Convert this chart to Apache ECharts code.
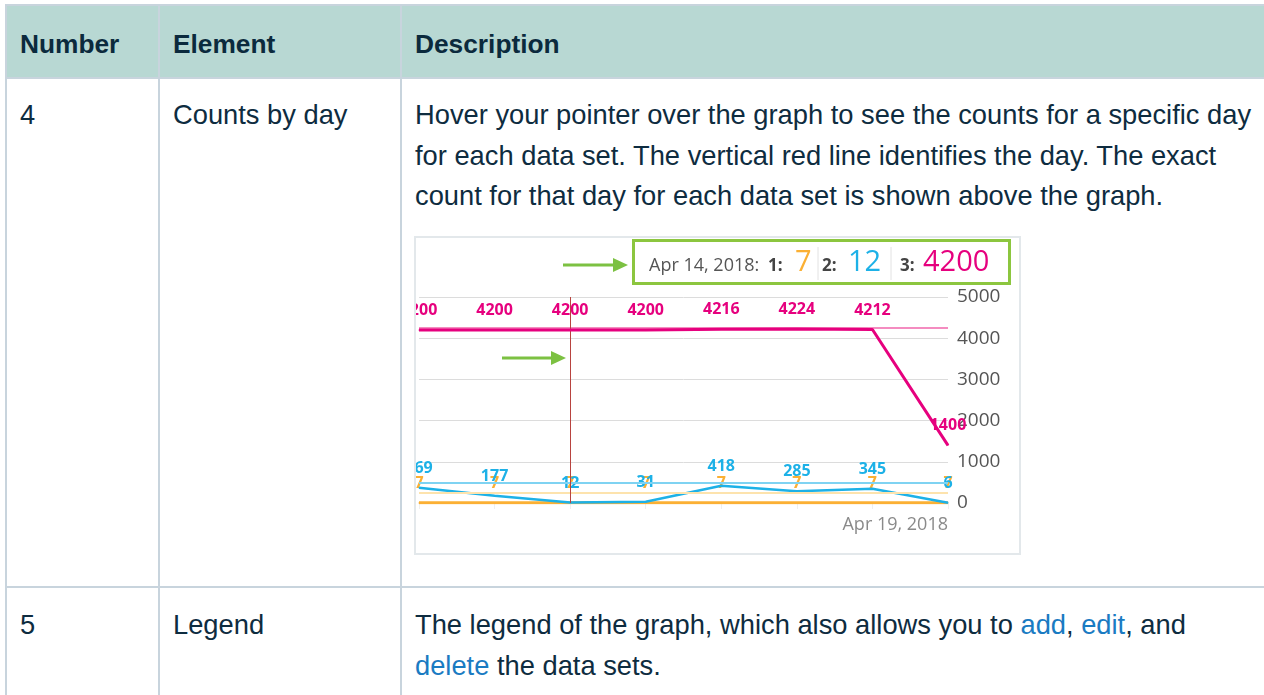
<!DOCTYPE html>
<html>
<head>
<meta charset="utf-8">
<script src="https://cdn.jsdelivr.net/npm/echarts@6/dist/echarts.min.js"></script>
<style>
  html, body { margin: 0; padding: 0; width: 1264px; height: 695px; overflow: hidden; background: #fff; }
  body { position: relative; font-family: "Liberation Sans", Arial, sans-serif; color: #0e2c40; }
  .t { position: absolute; font-size: 27.3px; line-height: 40.5px; white-space: nowrap; }
  .h { font-weight: bold; font-size: 26.3px; color: #0b2a3d; }
  .ln { position: absolute; background: #c8d4dd; }
  a { color: #1a7bc2; text-decoration: none; }
  #chart { position: absolute; left: 414px; top: 236px; width: 603px; height: 315px; border: 2px solid #e3e8eb; }
</style>
</head>
<body>
<div style="position:absolute;left:5px;top:5px;width:1259px;height:73px;background:#b8d8d3;"></div>
<div class="ln" style="left:5px;top:4px;width:1259px;height:2px;"></div>
<div class="ln" style="left:5px;top:77px;width:1259px;height:2px;"></div>
<div class="ln" style="left:5px;top:586px;width:1259px;height:2px;"></div>
<div class="ln" style="left:5px;top:4px;width:2px;height:691px;"></div>
<div class="ln" style="left:158px;top:4px;width:2px;height:691px;"></div>
<div class="ln" style="left:400px;top:4px;width:2px;height:691px;"></div>

<div class="t h" style="left:20px;top:24px;">Number</div>
<div class="t h" style="left:173px;top:24px;">Element</div>
<div class="t h" style="left:415px;top:24px;">Description</div>

<div class="t" style="left:20px;top:95px;">4</div>
<div class="t" style="left:173px;top:95px;">Counts by day</div>
<div class="t" style="left:415px;top:95px;">Hover your pointer over the graph to see the counts for a specific day<br>for each data set. The vertical red line identifies the day. The exact<br>count for that day for each data set is shown above the graph.</div>

<div class="t" style="left:20px;top:605px;">5</div>
<div class="t" style="left:173px;top:605px;">Legend</div>
<div class="t" style="left:415px;top:605px;">The legend of the graph, which also allows you to <a>add</a>, <a>edit</a>, and<br><a>delete</a> the data sets.</div>

<div id="chart"></div>

<script>
// ---- data ----
const days = ['Apr 12, 2018', 'Apr 13, 2018', 'Apr 14, 2018', 'Apr 15, 2018', 'Apr 16, 2018', 'Apr 17, 2018', 'Apr 18, 2018', 'Apr 19, 2018'];
const set1 = [7, 7, 7, 7, 7, 7, 7, 7];
const set2 = [369, 177, 12, 31, 418, 285, 345, 6];
const set3 = [4200, 4200, 4200, 4200, 4216, 4224, 4212, 1400];
const ref1 = 240;
const ref2 = 490;
const ref3 = 4245;
const hoverDay = 'Apr 14, 2018';
const yTicks = [0, 1000, 2000, 3000, 4000, 5000];

const C1 = '#fbb034', C2 = '#1db1e7', C3 = '#e6007e';
const FONT = '"Open Sans", sans-serif';

const chart = echarts.init(document.getElementById('chart'), null, { renderer: 'canvas' });

function lbl(color, extra) {
  return Object.assign({ show: true, position: 'top', distance: 11, color: color, fontWeight: 'bold', fontSize: 16, fontFamily: FONT }, extra || {});
}
function refLine(v, color) {
  return { yAxis: v, lineStyle: { color: color, width: 2, type: 'solid' } };
}

const hi = days.indexOf(hoverDay);
chart.setOption({
  animation: false,
  grid: { left: 0, right: 71, top: 59, bottom: 50 },
  xAxis: {
    type: 'category', data: days, boundaryGap: false,
    axisLine: { show: true, lineStyle: { color: '#dcdcdc' } },
    axisTick: { show: true, length: 6, lineStyle: { color: '#efefef' } },
    axisLabel: {
      interval: 0, margin: 13, color: '#8a8a8a', fontSize: 18, fontFamily: FONT, align: 'right',
      formatter: (v, i) => (i === days.length - 1 ? v : '')
    },
    splitLine: { show: false }
  },
  yAxis: {
    type: 'value', position: 'right', min: yTicks[0], max: yTicks[yTicks.length - 1], interval: 1000,
    axisLine: { show: false }, axisTick: { show: false },
    axisLabel: { margin: 9, color: '#555', fontSize: 19, fontFamily: FONT, formatter: v => String(v) },
    splitLine: { lineStyle: { color: '#dcdcdc', width: 1 } }
  },
  series: [
    {
      name: '1', type: 'line', data: set1, symbol: 'circle', symbolSize: 1,
      itemStyle: { color: C1 }, lineStyle: { color: C1, width: 3 },
      label: lbl(C1), z: 3,
      markLine: { silent: true, symbol: ['none', 'none'], label: { show: false }, data: [refLine(ref1, '#fde3ad')] }
    },
    {
      name: '2', type: 'line', data: set2, symbol: 'circle', symbolSize: 1,
      itemStyle: { color: C2 }, lineStyle: { color: C2, width: 2.5 },
      label: lbl(C2), z: 4,
      markLine: { silent: true, symbol: ['none', 'none'], label: { show: false }, data: [refLine(ref2, '#7fd3f2')] }
    },
    {
      name: '3', type: 'line', data: set3, symbol: 'circle', symbolSize: 1,
      itemStyle: { color: C3 }, lineStyle: { color: C3, width: 3 },
      label: lbl(C3),
      z: 5,
      markLine: {
        silent: true, symbol: ['none', 'none'], label: { show: false },
        data: [
          refLine(ref3, '#f48cc0'),
          { xAxis: hi, lineStyle: { color: '#b8433f', width: 1, type: 'solid' } }
        ]
      }
    }
  ],
  graphic: [
    // hover read-out box
    { type: 'rect', shape: { x: 217.5, y: 2.5, width: 376, height: 43 }, style: { fill: '#fff', stroke: '#8cc63f', lineWidth: 3 }, z: 10 },
    { type: 'line', shape: { x1: 402, y1: 9, x2: 402, y2: 42 }, style: { stroke: '#e2e2e2', lineWidth: 1 }, z: 11 },
    { type: 'line', shape: { x1: 475, y1: 9, x2: 475, y2: 42 }, style: { stroke: '#e2e2e2', lineWidth: 1 }, z: 11 },
    { type: 'text', x: 233, y: 28, style: { text: hoverDay + ':', fill: '#555', font: '18px ' + FONT, verticalAlign: 'middle' }, z: 11 },
    { type: 'text', x: 352, y: 28, style: { text: '1:', fill: '#444', font: 'bold 17px ' + FONT, verticalAlign: 'middle' }, z: 11 },
    { type: 'text', x: 379, y: 25, style: { text: String(set1[hi]), fill: C1, font: '29px ' + FONT, verticalAlign: 'middle' }, z: 11 },
    { type: 'text', x: 406, y: 28, style: { text: '2:', fill: '#444', font: 'bold 17px ' + FONT, verticalAlign: 'middle' }, z: 11 },
    { type: 'text', x: 432, y: 25, style: { text: String(set2[hi]), fill: C2, font: '29px ' + FONT, verticalAlign: 'middle' }, z: 11 },
    { type: 'text', x: 484, y: 28, style: { text: '3:', fill: '#444', font: 'bold 17px ' + FONT, verticalAlign: 'middle' }, z: 11 },
    { type: 'text', x: 507, y: 25, style: { text: String(set3[hi]), fill: C3, font: '29px ' + FONT, verticalAlign: 'middle' }, z: 11 },
    // green arrows
    { type: 'line', shape: { x1: 147, y1: 27, x2: 200, y2: 27 }, style: { stroke: '#7cc142', lineWidth: 3 }, z: 11 },
    { type: 'polygon', shape: { points: [[197, 20], [212, 27], [197, 34]] }, style: { fill: '#7cc142' }, z: 11 },
    { type: 'line', shape: { x1: 86, y1: 120, x2: 138, y2: 120 }, style: { stroke: '#7cc142', lineWidth: 3 }, z: 11 },
    { type: 'polygon', shape: { points: [[135, 113], [150, 120], [135, 127]] }, style: { fill: '#7cc142' }, z: 11 }
  ]
});
</script>
</body>
</html>
